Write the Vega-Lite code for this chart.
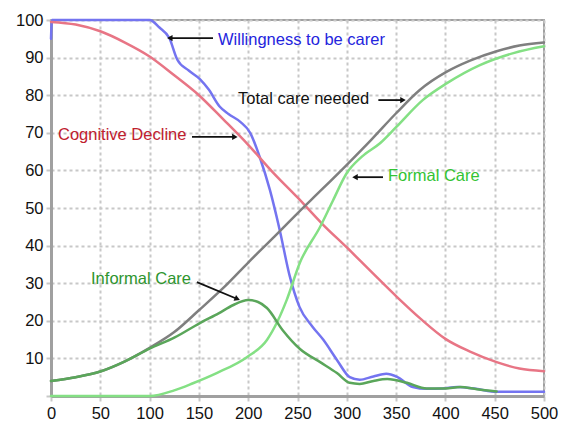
{
  "$schema": "https://vega.github.io/schema/vega-lite/v6.json",
  "width": 493,
  "height": 376,
  "autosize": "none",
  "padding": {"left": 51, "top": 20, "right": 19, "bottom": 25},
  "background": "white",
  "config": {
    "view": {"stroke": "#a0a0a0", "strokeWidth": 2},
    "font": "Liberation Sans",
    "axis": {
      "labelOverlap": false,
      "labelFlush": false,
      "labelFontSize": 16.5,
      "labelColor": "#111111",
      "labelFont": "Liberation Sans",
      "domainColor": "#a0a0a0",
      "domainWidth": 3,
      "tickColor": "#c8c8c8",
      "tickSize": 5,
      "tickWidth": 2,
      "grid": true,
      "gridColor": "#c8c8c8",
      "gridDash": [3, 3],
      "gridWidth": 2,
      "title": null
    }
  },
  "datasets": {
    "curves": [
      {"series": "Willingness", "x": 0, "y": 95},
      {"series": "Willingness", "x": 1, "y": 100},
      {"series": "Willingness", "x": 100, "y": 100},
      {"series": "Willingness", "x": 110, "y": 98},
      {"series": "Willingness", "x": 120, "y": 95.2},
      {"series": "Willingness", "x": 128, "y": 89.5},
      {"series": "Willingness", "x": 140, "y": 86.5},
      {"series": "Willingness", "x": 151, "y": 84.3},
      {"series": "Willingness", "x": 160, "y": 81.5},
      {"series": "Willingness", "x": 171, "y": 77},
      {"series": "Willingness", "x": 180, "y": 75},
      {"series": "Willingness", "x": 192, "y": 72.9},
      {"series": "Willingness", "x": 202, "y": 70},
      {"series": "Willingness", "x": 212, "y": 63.3},
      {"series": "Willingness", "x": 222, "y": 54.8},
      {"series": "Willingness", "x": 232, "y": 44.1},
      {"series": "Willingness", "x": 242, "y": 32},
      {"series": "Willingness", "x": 252, "y": 23.7},
      {"series": "Willingness", "x": 265, "y": 18.5},
      {"series": "Willingness", "x": 276, "y": 15},
      {"series": "Willingness", "x": 290, "y": 9.6},
      {"series": "Willingness", "x": 303, "y": 5},
      {"series": "Willingness", "x": 313, "y": 4.3},
      {"series": "Willingness", "x": 327, "y": 5.2},
      {"series": "Willingness", "x": 340, "y": 5.9},
      {"series": "Willingness", "x": 351, "y": 5.1},
      {"series": "Willingness", "x": 367, "y": 2.4},
      {"series": "Willingness", "x": 381, "y": 1.9},
      {"series": "Willingness", "x": 397, "y": 2},
      {"series": "Willingness", "x": 412, "y": 2.4},
      {"series": "Willingness", "x": 431, "y": 1.9},
      {"series": "Willingness", "x": 452, "y": 1.1},
      {"series": "Willingness", "x": 500, "y": 1.1},
      {"series": "Cognitive", "x": 0, "y": 99.5},
      {"series": "Cognitive", "x": 25, "y": 98.8},
      {"series": "Cognitive", "x": 50, "y": 97},
      {"series": "Cognitive", "x": 75, "y": 94},
      {"series": "Cognitive", "x": 100, "y": 90.3},
      {"series": "Cognitive", "x": 125, "y": 85.3},
      {"series": "Cognitive", "x": 150, "y": 80},
      {"series": "Cognitive", "x": 175, "y": 73.5},
      {"series": "Cognitive", "x": 200, "y": 66.8},
      {"series": "Cognitive", "x": 225, "y": 59.5},
      {"series": "Cognitive", "x": 250, "y": 52.8},
      {"series": "Cognitive", "x": 275, "y": 45.8},
      {"series": "Cognitive", "x": 300, "y": 39.5},
      {"series": "Cognitive", "x": 325, "y": 33},
      {"series": "Cognitive", "x": 351, "y": 26.3},
      {"series": "Cognitive", "x": 375, "y": 20.5},
      {"series": "Cognitive", "x": 400, "y": 15.2},
      {"series": "Cognitive", "x": 425, "y": 11.8},
      {"series": "Cognitive", "x": 452, "y": 9},
      {"series": "Cognitive", "x": 475, "y": 7.3},
      {"series": "Cognitive", "x": 500, "y": 6.6},
      {"series": "Total", "x": 0, "y": 4},
      {"series": "Total", "x": 25, "y": 5},
      {"series": "Total", "x": 50, "y": 6.5},
      {"series": "Total", "x": 75, "y": 9.2},
      {"series": "Total", "x": 100, "y": 12.8},
      {"series": "Total", "x": 125, "y": 17},
      {"series": "Total", "x": 150, "y": 22.8},
      {"series": "Total", "x": 175, "y": 28.8},
      {"series": "Total", "x": 200, "y": 35.5},
      {"series": "Total", "x": 225, "y": 42},
      {"series": "Total", "x": 250, "y": 48.6},
      {"series": "Total", "x": 275, "y": 55},
      {"series": "Total", "x": 300, "y": 61.5},
      {"series": "Total", "x": 325, "y": 68.2},
      {"series": "Total", "x": 350, "y": 75.2},
      {"series": "Total", "x": 374, "y": 81.4},
      {"series": "Total", "x": 401, "y": 86.2},
      {"series": "Total", "x": 425, "y": 89.2},
      {"series": "Total", "x": 452, "y": 91.7},
      {"series": "Total", "x": 475, "y": 93.2},
      {"series": "Total", "x": 500, "y": 94},
      {"series": "Formal", "x": 0, "y": 0},
      {"series": "Formal", "x": 100, "y": 0},
      {"series": "Formal", "x": 125, "y": 1.5},
      {"series": "Formal", "x": 144, "y": 3.4},
      {"series": "Formal", "x": 168, "y": 6.1},
      {"series": "Formal", "x": 199, "y": 10.4},
      {"series": "Formal", "x": 219, "y": 14.9},
      {"series": "Formal", "x": 230, "y": 20},
      {"series": "Formal", "x": 239, "y": 25.5},
      {"series": "Formal", "x": 252.5, "y": 35.5},
      {"series": "Formal", "x": 273, "y": 45},
      {"series": "Formal", "x": 286, "y": 52},
      {"series": "Formal", "x": 300, "y": 59.3},
      {"series": "Formal", "x": 315, "y": 63.6},
      {"series": "Formal", "x": 334, "y": 67.3},
      {"series": "Formal", "x": 350, "y": 71.5},
      {"series": "Formal", "x": 377, "y": 78.7},
      {"series": "Formal", "x": 401.6, "y": 83.2},
      {"series": "Formal", "x": 435, "y": 88},
      {"series": "Formal", "x": 469, "y": 91.2},
      {"series": "Formal", "x": 500, "y": 93},
      {"series": "Informal", "x": 0, "y": 4},
      {"series": "Informal", "x": 25, "y": 5},
      {"series": "Informal", "x": 50, "y": 6.5},
      {"series": "Informal", "x": 75, "y": 9.2},
      {"series": "Informal", "x": 100, "y": 12.6},
      {"series": "Informal", "x": 125, "y": 15.5},
      {"series": "Informal", "x": 151, "y": 19.4},
      {"series": "Informal", "x": 170, "y": 22},
      {"series": "Informal", "x": 185, "y": 24.2},
      {"series": "Informal", "x": 200, "y": 25.5},
      {"series": "Informal", "x": 210, "y": 25},
      {"series": "Informal", "x": 219, "y": 23.4},
      {"series": "Informal", "x": 235, "y": 17.5},
      {"series": "Informal", "x": 252.5, "y": 12.5},
      {"series": "Informal", "x": 273, "y": 9},
      {"series": "Informal", "x": 290, "y": 6.1},
      {"series": "Informal", "x": 303, "y": 3.5},
      {"series": "Informal", "x": 313, "y": 3.2},
      {"series": "Informal", "x": 327, "y": 4},
      {"series": "Informal", "x": 341, "y": 4.5},
      {"series": "Informal", "x": 361, "y": 3.5},
      {"series": "Informal", "x": 381, "y": 2},
      {"series": "Informal", "x": 400, "y": 2},
      {"series": "Informal", "x": 415, "y": 2.4},
      {"series": "Informal", "x": 432, "y": 1.8},
      {"series": "Informal", "x": 452, "y": 1.2}
    ],
    "labels": [
      {"series": "Willingness", "text": "Willingness to be carer", "x": 169.4, "y": 94.7},
      {"series": "Total", "text": "Total care needed", "x": 189.7, "y": 79},
      {"series": "Cognitive", "text": "Cognitive Decline", "x": 7.1, "y": 69.5},
      {"series": "Formal", "text": "Formal Care", "x": 341.8, "y": 58.5},
      {"series": "Informal", "text": "Informal Care", "x": 40.6, "y": 31.1}
    ],
    "arrows": [
      {"series": "Willingness", "x": 164.3, "y": 95.2, "x2": 120.5, "y2": 95.2},
      {"series": "Total", "x": 332, "y": 78.7, "x2": 357, "y2": 78.7},
      {"series": "Cognitive", "x": 143, "y": 68.9, "x2": 186.5, "y2": 68.9},
      {"series": "Formal", "x": 336.7, "y": 58.2, "x2": 308.3, "y2": 58.2},
      {"series": "Informal", "x": 148, "y": 30.3, "x2": 189, "y2": 25.8}
    ],
    "heads": [
      {"series": "Willingness", "dir": "left", "x": 120.5, "y": 95.2},
      {"series": "Total", "dir": "right", "x": 357, "y": 78.7},
      {"series": "Cognitive", "dir": "right", "x": 186.5, "y": 68.9},
      {"series": "Formal", "dir": "left", "x": 308.3, "y": 58.2},
      {"series": "Informal", "dir": "diag", "x": 189, "y": 25.8}
    ]
  },
  "encoding": {
    "x": {
      "field": "x", "type": "quantitative",
      "scale": {"domain": [0, 500], "nice": false, "zero": false},
      "axis": {
        "values": [0, 50, 100, 150, 200, 250, 300, 350, 400, 450, 500],
        "labelPadding": 4
      }
    },
    "y": {
      "field": "y", "type": "quantitative",
      "scale": {"domain": [0, 100], "nice": false},
      "axis": {
        "values": [0, 10, 20, 30, 40, 50, 60, 70, 80, 90, 100],
        "labelExpr": "datum.value == 0 ? '' : datum.label",
        "labelPadding": 3
      }
    }
  },
  "layer": [
    {
      "data": {"name": "curves"},
      "mark": {"type": "line", "interpolate": "monotone", "strokeWidth": 2.5, "strokeCap": "round", "strokeJoin": "round"},
      "encoding": {
        "color": {
          "field": "series", "type": "nominal", "legend": null,
          "scale": {
            "domain": ["Formal", "Informal", "Cognitive", "Total", "Willingness"],
            "range": ["#84e084", "#5aa65a", "#e87585", "#7f7f7f", "#7474f0"]
          }
        }
      }
    },
    {
      "data": {"name": "arrows"},
      "mark": {"type": "rule", "color": "#111111", "strokeWidth": 1.8},
      "encoding": {
        "x2": {"field": "x2"},
        "y2": {"field": "y2"}
      }
    },
    {
      "data": {"name": "heads"},
      "transform": [{"filter": "datum.dir == 'left'"}],
      "mark": {"type": "point", "shape": "triangle-left", "filled": true, "color": "#111111", "size": 40, "opacity": 1}
    },
    {
      "data": {"name": "heads"},
      "transform": [{"filter": "datum.dir == 'right'"}],
      "mark": {"type": "point", "shape": "triangle-right", "filled": true, "color": "#111111", "size": 40, "opacity": 1}
    },
    {
      "data": {"name": "heads"},
      "transform": [{"filter": "datum.dir == 'diag'"}],
      "mark": {"type": "point", "shape": "triangle-right", "angle": 23, "filled": true, "color": "#111111", "size": 40, "opacity": 1}
    },
    {
      "data": {"name": "labels"},
      "mark": {"type": "text", "align": "left", "baseline": "middle", "fontSize": 16.5, "font": "Liberation Sans"},
      "encoding": {
        "text": {"field": "text"},
        "color": {
          "field": "series", "type": "nominal", "legend": null,
          "scale": {
            "domain": ["Formal", "Informal", "Cognitive", "Total", "Willingness"],
            "range": ["#33c333", "#2e952e", "#c0202e", "#111111", "#2424dd"]
          }
        }
      }
    }
  ],
  "resolve": {"scale": {"color": "independent"}}
}
